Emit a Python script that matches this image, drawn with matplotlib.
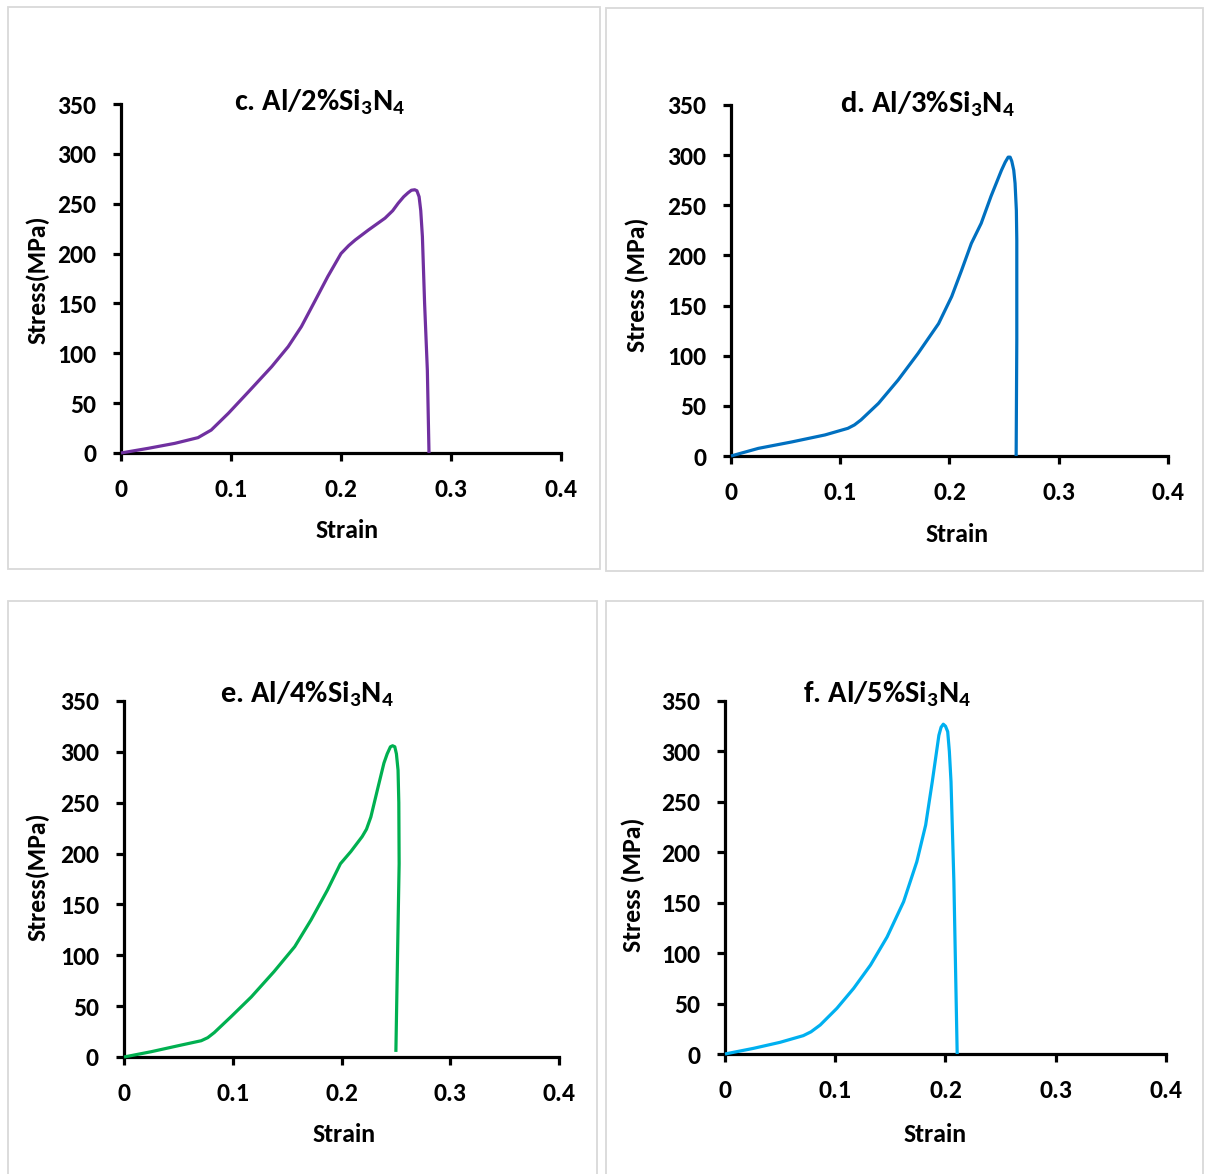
import os
import matplotlib
matplotlib.use("Agg")
import matplotlib.pyplot as plt
from matplotlib.patches import Rectangle
from matplotlib import font_manager as fm
from matplotlib import ft2font

# locate a font file whose glyphs are really bold (Calibri-like preferred)
def real_weight(path):
    try:
        f = ft2font.FT2Font(path)
        os2 = f.get_sfnt_table('OS/2')
        return os2.get('usWeightClass', 400) if os2 else 400
    except Exception:
        return 0

def find_bold_file():
    prefs = ['Carlito', 'Lato', 'Open Sans', 'Noto Sans', 'Roboto', 'Liberation Sans']
    entries = fm.fontManager.ttflist
    for fam in prefs:
        cands = []
        for e in entries:
            if e.name == fam and e.style == 'normal':
                base = os.path.basename(e.fname).lower()
                if 'italic' in base or 'oblique' in base:
                    continue
                w = real_weight(e.fname)
                if 700 <= w <= 750 and 'bold' in base:
                    cands.append(e.fname)
        if cands:
            return cands[0]
    return os.path.join(matplotlib.get_data_path(), 'fonts', 'ttf', 'DejaVuSans-Bold.ttf')

BOLD_FILE = find_bold_file()

def fp(size):
    return fm.FontProperties(fname=BOLD_FILE, size=size)

plt.rcParams['mathtext.default'] = 'regular'

# ---- data ----
strain_c = [0, 0.0248, 0.049, 0.070, 0.082, 0.0976, 0.116, 0.137, 0.152, 0.164, 0.176, 0.188, 0.200,
            0.207, 0.213, 0.225, 0.240, 0.247, 0.252, 0.257, 0.261, 0.264, 0.267, 0.269, 0.271, 0.2725,
            0.274, 0.276, 0.2785, 0.280]
stress_c = [0, 4.7, 9.7, 15.4, 23, 39.8, 61.5, 86.6, 106.7, 126.8, 151.8, 177, 200,
            208, 213.7, 223.7, 235.5, 243, 250.5, 257, 261, 263.5, 264, 263, 257, 243,
            217, 150, 83, 0]

strain_d = [0, 0.025, 0.0555, 0.086, 0.107, 0.113, 0.119, 0.135, 0.153, 0.171, 0.190, 0.202, 0.211, 0.220,
            0.229, 0.238, 0.2476, 0.251, 0.2537, 0.2555, 0.257, 0.2588, 0.260, 0.2612, 0.2616, 0.2616, 0.261]
stress_d = [0, 7.6, 14, 21, 27.6, 31, 36, 52.5, 75.8, 102, 132, 159, 185, 212,
            232, 259, 285, 293, 298, 298, 294, 285, 272, 245, 215, 116, 0]

strain_e = [0, 0.025, 0.0495, 0.071, 0.077, 0.083, 0.0985, 0.117, 0.138, 0.157, 0.172, 0.187, 0.199, 0.2086,
            0.219, 0.223, 0.227, 0.233, 0.239, 0.242, 0.245, 0.247, 0.249, 0.2505, 0.252, 0.2527, 0.253,
            0.2514, 0.250]
stress_e = [0, 5.2, 11, 16, 19, 24, 39.7, 59, 84, 108.5, 134.8, 164, 190, 202,
            216.7, 224, 236, 262.6, 288.9, 298, 305, 306, 305, 298, 282, 250, 190,
            92, 5]

strain_f = [0, 0.0258, 0.050, 0.071, 0.078, 0.0864, 0.1015, 0.1167, 0.132, 0.147, 0.162, 0.174, 0.182,
            0.188, 0.194, 0.196, 0.198, 0.200, 0.202, 0.2035, 0.205, 0.2076, 0.2106]
stress_f = [0, 5.6, 11.6, 18.2, 22, 28.8, 45.3, 65.1, 88.2, 116, 151, 190.7, 227,
            270, 316, 324, 327, 325, 319.6, 300, 270, 171, 0]

titles = ["c. Al/2%Si$_3$N$_4$", "d. Al/3%Si$_3$N$_4$", "e. Al/4%Si$_3$N$_4$", "f. Al/5%Si$_3$N$_4$"]
ylabels = ["Stress(MPa)", "Stress (MPa)", "Stress(MPa)", "Stress (MPa)"]
xlabel = "Strain"
colors = ["#7030A0", "#0070C0", "#00B050", "#00B0F0"]
xticks = [0, 0.1, 0.2, 0.3, 0.4]
xticklabels = ["0", "0.1", "0.2", "0.3", "0.4"]
yticks = [0, 50, 100, 150, 200, 250, 300, 350]

W, H = 1205, 1174
fig = plt.figure(figsize=(W / 100, H / 100), dpi=100)

def fx(px):
    return px / W

def fy(py):
    return 1 - py / H

# panel layout in pixels
axes_px = [(121, 561, 104, 453), (731, 1168, 105, 456), (124, 559, 701, 1057), (725, 1166, 701, 1054)]
boxes_px = [(8, 600, 7, 569), (606, 1203, 8, 571), (8, 597, 601, 1180), (606, 1203, 601, 1180)]
title_pos = [(320, 102), (927, 104), (307, 694), (887, 694)]
xlabel_pos = [(347, 530), (957, 535), (344, 1135), (935, 1135)]
ylabel_pos = [(38, 280), (637, 285), (38, 877), (633, 885)]

data = [(strain_c, stress_c), (strain_d, stress_d), (strain_e, stress_e), (strain_f, stress_f)]

for i in range(4):
    bx0, bx1, by0, by1 = boxes_px[i]
    fig.patches.append(Rectangle((fx(bx0), fy(by1)), fx(bx1 - bx0), (by1 - by0) / H,
                                 transform=fig.transFigure, fill=False,
                                 edgecolor="#d9d9d9", linewidth=1.3, zorder=0))
    l, r, t, b = axes_px[i]
    ax = fig.add_axes([fx(l), fy(b), (r - l) / W, (b - t) / H])
    x, y = data[i]
    ax.plot(x, y, color=colors[i], linewidth=2.3, solid_capstyle='butt',
            solid_joinstyle='round', clip_on=False, zorder=3)
    ax.set_xlim(0, 0.4)
    ax.set_ylim(0, 350)
    ax.set_xticks(xticks)
    ax.set_xticklabels(xticklabels)
    ax.set_yticks(yticks)
    for s in ["top", "right"]:
        ax.spines[s].set_visible(False)
    for s in ["left", "bottom"]:
        ax.spines[s].set_linewidth(2.3)
        ax.spines[s].set_color("black")
    ax.tick_params(axis='both', direction='out', length=6, width=2.3, color='black')
    ax.tick_params(axis='x', pad=12)
    ax.tick_params(axis='y', pad=12)
    for lab in ax.get_xticklabels() + ax.get_yticklabels():
        lab.set_fontproperties(fp(18.5))
    ax.patch.set_alpha(0)
    tx, ty = title_pos[i]
    fig.text(fx(tx), fy(ty), titles[i], ha='center', va='center', fontproperties=fp(22))
    lx, ly = xlabel_pos[i]
    fig.text(fx(lx), fy(ly), xlabel, ha='center', va='center', fontproperties=fp(18.5))
    yx, yy = ylabel_pos[i]
    fig.text(fx(yx), fy(yy), ylabels[i], ha='center', va='center', rotation=90, fontproperties=fp(18.5))

fig.savefig("out.png", dpi=100, facecolor="white")
